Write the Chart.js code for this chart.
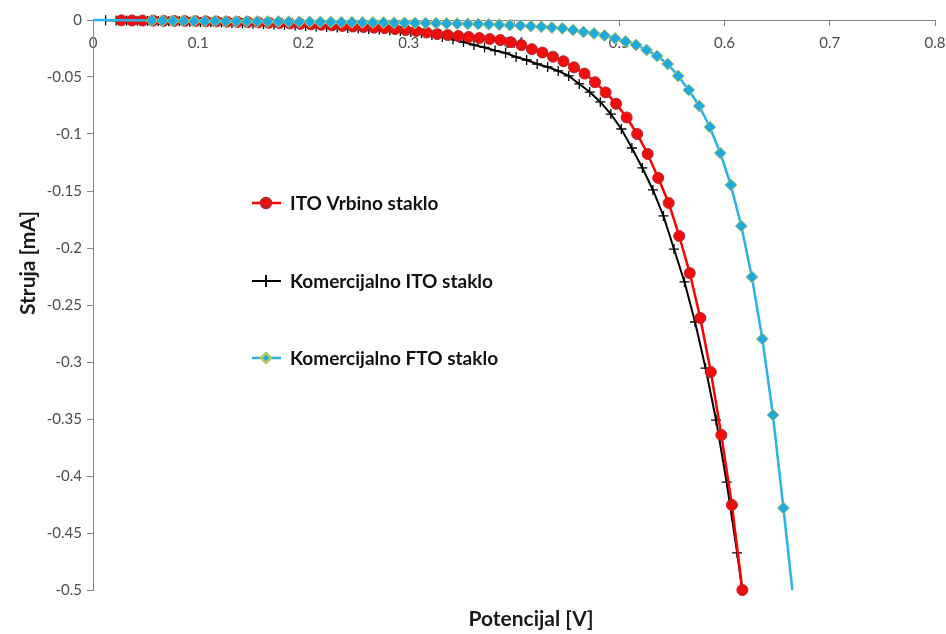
<!DOCTYPE html>
<html>
<head>
<meta charset="utf-8">
<script src="https://cdn.jsdelivr.net/npm/chart.js@4.4.1/dist/chart.umd.min.js"></script>
<style>
  body { margin: 0; background: #fff; }
  #wrap { width: 946px; height: 634px; }
</style>
</head>
<body>
<div id="wrap"><canvas id="grafica" width="946" height="634"></canvas></div>
<script>
// I-V krive za tri vrste stakla
const legendLabels = ["ITO Vrbino staklo", "Komercijalno ITO staklo", "Komercijalno FTO staklo"];
const xTicks = [0, 0.1, 0.2, 0.3, 0.4, 0.5, 0.6, 0.7, 0.8];
const yTicks = [0, -0.05, -0.1, -0.15, -0.2, -0.25, -0.3, -0.35, -0.4, -0.45, -0.5];

// ITO Vrbino staklo
const redV = [0.027, 0.037, 0.047, 0.057, 0.067, 0.077, 0.087, 0.097, 0.107, 0.117,
  0.127, 0.137, 0.147, 0.157, 0.167, 0.177, 0.187, 0.197, 0.207, 0.217,
  0.227, 0.237, 0.247, 0.257, 0.267, 0.277, 0.287, 0.297, 0.307, 0.317,
  0.327, 0.337, 0.347, 0.357, 0.367, 0.377, 0.387, 0.397, 0.407, 0.417,
  0.427, 0.437, 0.447, 0.457, 0.467, 0.477, 0.487, 0.497, 0.507, 0.517,
  0.527, 0.537, 0.547, 0.557, 0.567, 0.577, 0.587, 0.597, 0.607, 0.617];
const redI = [-0.0003, -0.0004, -0.0005, -0.0006, -0.0007, -0.0008, -0.0009, -0.001, -0.0012, -0.0013,
  -0.0015, -0.0017, -0.0019, -0.0021, -0.0024, -0.0027, -0.003, -0.0034, -0.0038, -0.0042,
  -0.0047, -0.0052, -0.0057, -0.0062, -0.0067, -0.0072, -0.008, -0.0088, -0.0096, -0.011,
  -0.0123, -0.0132, -0.014, -0.0149, -0.0158, -0.0167, -0.0176, -0.0195, -0.022, -0.0256,
  -0.0285, -0.0322, -0.0362, -0.0415, -0.047, -0.0546, -0.0635, -0.0735, -0.0855, -0.1,
  -0.1175, -0.1385, -0.1605, -0.1895, -0.222, -0.2614, -0.3088, -0.364, -0.4254, -0.5];

// Komercijalno ITO staklo
const blackV = [0.012, 0.022, 0.032, 0.042, 0.052, 0.062, 0.072, 0.082, 0.092, 0.102,
  0.112, 0.122, 0.132, 0.142, 0.152, 0.162, 0.172, 0.182, 0.192, 0.202,
  0.212, 0.222, 0.232, 0.242, 0.252, 0.262, 0.272, 0.282, 0.292, 0.302,
  0.312, 0.322, 0.332, 0.342, 0.352, 0.362, 0.372, 0.382, 0.392, 0.402,
  0.412, 0.422, 0.432, 0.442, 0.452, 0.462, 0.472, 0.482, 0.492, 0.502,
  0.512, 0.522, 0.532, 0.542, 0.552, 0.562, 0.572, 0.582, 0.592, 0.602,
  0.612, 0.622];
const blackI = [-0.0003, -0.0004, -0.0005, -0.0006, -0.0007, -0.0009, -0.001, -0.0012, -0.0015, -0.0018,
  -0.002, -0.0023, -0.0026, -0.0029, -0.0032, -0.0036, -0.004, -0.0044, -0.0048, -0.0052,
  -0.0057, -0.0061, -0.0066, -0.0071, -0.0075, -0.0079, -0.0084, -0.009, -0.0096, -0.0105,
  -0.0114, -0.0132, -0.0149, -0.0171, -0.0193, -0.0219, -0.0241, -0.0268, -0.0289, -0.0325,
  -0.0351, -0.0386, -0.0412, -0.0447, -0.0491, -0.0561, -0.0632, -0.0719, -0.0825, -0.0956,
  -0.1123, -0.1298, -0.1491, -0.1719, -0.2009, -0.2298, -0.2649, -0.3053, -0.3509, -0.4053,
  -0.4675, -0.5351];

// Komercijalno FTO staklo
const cyanV = [0,
  0.056, 0.066, 0.076, 0.086, 0.096, 0.106, 0.116, 0.126, 0.136, 0.146,
  0.156, 0.166, 0.176, 0.186, 0.196, 0.206, 0.216, 0.226, 0.236, 0.246,
  0.256, 0.266, 0.276, 0.286, 0.296, 0.306, 0.316, 0.326, 0.336, 0.346,
  0.356, 0.366, 0.376, 0.386, 0.396, 0.406, 0.416, 0.426, 0.436, 0.446,
  0.456, 0.466, 0.476, 0.486, 0.496, 0.506, 0.516, 0.526, 0.536, 0.546,
  0.556, 0.566, 0.576, 0.586, 0.596, 0.606, 0.616, 0.626, 0.636, 0.646,
  0.656, 0.666];
const cyanI = [0,
  -0.0005, -0.0006, -0.0007, -0.0008, -0.0009, -0.001, -0.001, -0.0011, -0.0012, -0.0012,
  -0.0013, -0.0014, -0.0014, -0.0015, -0.0016, -0.0016, -0.0017, -0.0018, -0.0019, -0.002,
  -0.0021, -0.0022, -0.0023, -0.0024, -0.0025, -0.0026, -0.0027, -0.0028, -0.003, -0.0032,
  -0.0034, -0.0036, -0.0038, -0.0041, -0.0045, -0.0049, -0.0054, -0.006, -0.0066, -0.0073,
  -0.0088, -0.0105, -0.0118, -0.0136, -0.0162, -0.0189, -0.0219, -0.0263, -0.0316, -0.0386,
  -0.0491, -0.0614, -0.0754, -0.0939, -0.1167, -0.1447, -0.1807, -0.2254, -0.2798, -0.3465,
  -0.4281, -0.5132];

const pairs = (xs, ys) => xs.map((x, i) => ({ x: x, y: ys[i] }));
const FONT = "Lato, 'Open Sans', sans-serif";
const clipBottom = { left: 10, top: 10, right: 10, bottom: 0 };

// legenda i naslovi osa, crtani rucno kao u originalu
const extras = {
  id: "extras",
  afterDraw(chart) {
    const ctx = chart.ctx;
    ctx.save();
    const rows = [203, 281, 358];
    chart.data.datasets.forEach((ds, i) => {
      const y = rows[i];
      ctx.strokeStyle = ds.borderColor;
      ctx.lineWidth = ds.borderWidth;
      ctx.beginPath();
      ctx.moveTo(252, y);
      ctx.lineTo(281, y);
      ctx.stroke();
      ctx.fillStyle = ds.pointBackgroundColor;
      ctx.strokeStyle = ds.pointBorderColor;
      Chart.helpers.drawPoint(ctx, {
        pointStyle: ds.pointStyle,
        radius: ds.legendRadius,
        rotation: 0,
        borderWidth: ds.pointBorderWidth
      }, 266, y);
      ctx.fillStyle = "#111";
      ctx.font = "bold 19px " + FONT;
      ctx.textAlign = "left";
      ctx.textBaseline = "middle";
      ctx.fillText(legendLabels[i], 290, y + 1);
    });

    ctx.fillStyle = "#1a1a1a";
    ctx.font = "bold 21px " + FONT;
    ctx.textAlign = "center";
    ctx.textBaseline = "middle";
    ctx.fillText("Potencijal [V]", 531, 619);
    ctx.translate(28, 263);
    ctx.rotate(-Math.PI / 2);
    ctx.fillText("Struja [mA]", 0, 0);
    ctx.restore();
  }
};

document.addEventListener("DOMContentLoaded", function () {
  const ctx = document.getElementById("grafica").getContext("2d");
  new Chart(ctx, {
    type: "scatter",
    data: {
      datasets: [
        {
          label: legendLabels[0],
          data: pairs(redV, redI),
          showLine: true,
          borderColor: "#ff0000",
          borderWidth: 2.5,
          pointStyle: "circle",
          pointRadius: 5.5,
          legendRadius: 5,
          pointBackgroundColor: "#f20d0d",
          pointBorderColor: "#b3262b",
          pointBorderWidth: 1,
          order: 1,
          clip: false
        },
        {
          label: legendLabels[1],
          data: pairs(blackV, blackI),
          showLine: true,
          borderColor: "#000000",
          borderWidth: 2,
          pointStyle: "cross",
          pointRadius: 5,
          legendRadius: 6,
          pointBackgroundColor: "#000000",
          pointBorderColor: "#000000",
          pointBorderWidth: 1.3,
          order: 2,
          clip: clipBottom
        },
        {
          label: legendLabels[2],
          data: pairs(cyanV, cyanI),
          showLine: true,
          borderColor: "#29b3e3",
          borderWidth: 2.5,
          pointStyle: "rectRot",
          pointRadius: (c) => (c.dataIndex === 0 ? 0 : 6),
          legendRadius: 5,
          pointBackgroundColor: "#1fa9dd",
          pointBorderColor: "#b4c95e",
          pointBorderWidth: 1,
          order: 0,
          clip: clipBottom
        }
      ]
    },
    options: {
      responsive: false,
      animation: false,
      layout: { padding: { left: 0, top: 20, right: 11, bottom: 44 } },
      plugins: {
        legend: { display: false },
        tooltip: { enabled: false }
      },
      scales: {
        x: {
          type: "linear",
          position: { y: 0 },
          min: 0,
          max: 0.8,
          afterBuildTicks: (s) => { s.ticks = xTicks.map((v) => ({ value: v })); },
          afterFit: (s) => { s.paddingRight = 0; s.paddingLeft = 0; },
          ticks: {
            color: "#4d4d4d",
            font: { family: FONT, size: 15 },
            padding: 9,
            maxRotation: 0,
            callback: (v) => String(v)
          },
          grid: { drawOnChartArea: false, drawTicks: true, tickLength: 5, color: "#868686" },
          border: { display: true, color: "#868686", width: 1 }
        },
        y: {
          type: "linear",
          min: -0.5,
          max: 0,
          afterBuildTicks: (s) => { s.ticks = yTicks.map((v) => ({ value: v })); },
          afterFit: (s) => { s.width = 93; },
          ticks: {
            color: "#4d4d4d",
            font: { family: FONT, size: 15 },
            padding: 5,
            callback: (v) => String(v)
          },
          grid: { drawOnChartArea: false, drawTicks: true, tickLength: 6, color: "#868686" },
          border: { display: true, color: "#868686", width: 1 }
        }
      }
    },
    plugins: [extras]
  });
});
</script>
</body>
</html>
